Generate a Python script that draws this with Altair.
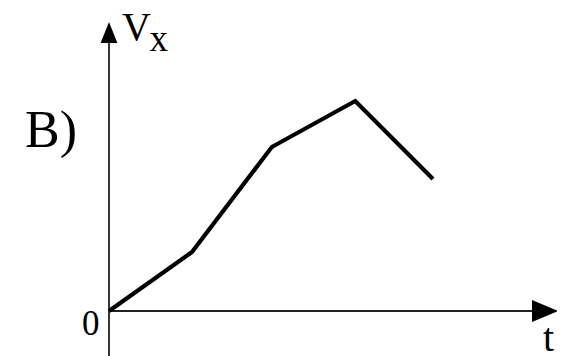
import altair as alt
import pandas as pd

# Curve data (t in arbitrary units, Vx in arbitrary units)
t_vals = [0, 1.025, 2.01, 3.04, 4.0]
vx_vals = [0, 1.18, 3.28, 4.2, 2.64]

# Axis extents (data units)
t_axis_end = 5.26
vx_axis_end = 5.6
vx_axis_bottom = -0.9

x_dom = [-1.247, 5.531]
y_dom = [-0.9, 6.06]

xs = alt.Scale(domain=x_dom, nice=False, zero=False)
ys = alt.Scale(domain=y_dom, nice=False, zero=False)

def X(f="t"):
    return alt.X(f"{f}:Q", scale=xs, axis=None)

def Y(f="v"):
    return alt.Y(f"{f}:Q", scale=ys, axis=None)

curve_df = pd.DataFrame({"t": t_vals, "v": vx_vals})
curve = alt.Chart(curve_df).mark_line(color="black", strokeWidth=4.2, strokeJoin="miter").encode(
    x=X(), y=Y(), order="t:Q")

vaxis = alt.Chart(pd.DataFrame({"t": [0], "v": [vx_axis_bottom], "v2": [vx_axis_end]})).mark_rule(
    color="#222", strokeWidth=1.8).encode(x=X(), y=Y(), y2="v2:Q")
haxis = alt.Chart(pd.DataFrame({"t": [0], "t2": [t_axis_end], "v": [0]})).mark_rule(
    color="#222", strokeWidth=1.8).encode(x=X(), x2="t2:Q", y=Y())

up_arrow = alt.Chart(pd.DataFrame({"t": [0], "v": [5.57]})).mark_point(
    shape="M0,-1L0.8,1L-0.8,1Z", filled=True, size=441, color="black", opacity=1).encode(x=X(), y=Y())
right_arrow = alt.Chart(pd.DataFrame({"t": [5.383], "v": [0]})).mark_point(
    shape="M1,0L-1,-0.85L-1,0.85Z", filled=True, size=676, color="black", opacity=1).encode(x=X(), y=Y())

def label(txt, t, v, size):
    return alt.Chart(pd.DataFrame({"t": [t], "v": [v], "s": [txt]})).mark_text(
        font="Liberation Serif", fontSize=size, color="black", align="left", baseline="alphabetic"
    ).encode(x=X(), y=Y(), text="s:N")

texts = [
    label("B)", -1.037, 3.28, 52),
    label("V", 0.16, 5.42, 40),
    label("x", 0.50, 5.2, 37),
    label("0", -0.333, -0.48, 35),
    label("t", 5.358, -0.80, 40),
]

chart = alt.layer(vaxis, haxis, up_arrow, right_arrow, curve, *texts).properties(
    width=549, height=348, padding=0, autosize=alt.AutoSizeParams(type="none")
).configure_view(stroke=None)

chart.save("out.html", embed_options={"renderer": "svg", "actions": False})
